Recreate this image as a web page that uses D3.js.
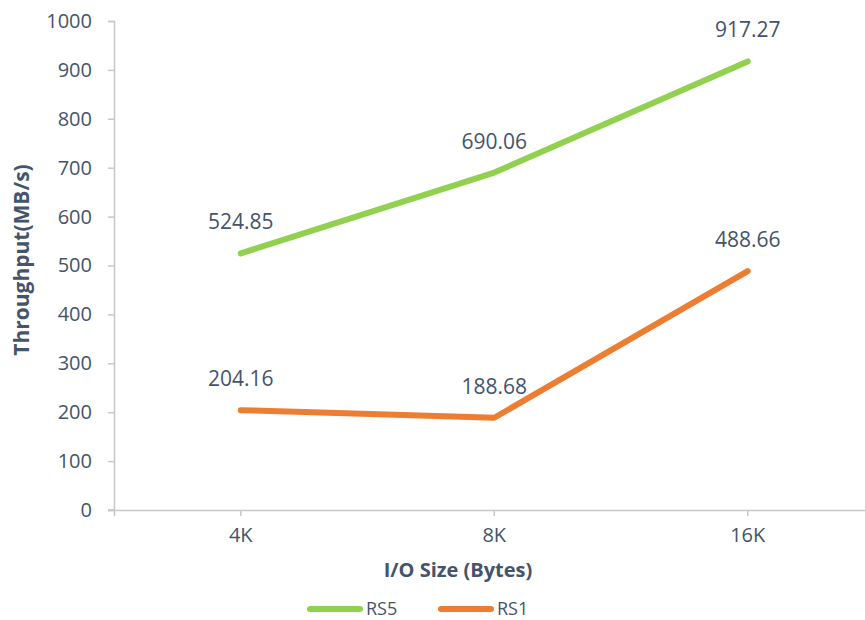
<!DOCTYPE html>
<html>
<head>
<meta charset="utf-8">
<script src="https://cdn.jsdelivr.net/npm/d3@7"></script>
<style>
  body { margin: 0; background: #fff; }
  svg { display: block; font-family: "Open Sans", sans-serif; }
</style>
</head>
<body>
<svg id="chart" width="865" height="620"></svg>
<script>
const categories = ["4K", "8K", "16K"];
const rs5 = [524.85, 690.06, 917.27];
const rs1 = [204.16, 188.68, 488.66];
const yTicks = [0, 100, 200, 300, 400, 500, 600, 700, 800, 900, 1000];

const series = [
    { name: "RS5", values: rs5, color: "#92D050" },
    { name: "RS1", values: rs1, color: "#ED7D31" }
];

const textColor = "#44546A";
const axisColor = "#C8C8C8";

const svg = d3.select("#chart");

// plot area
const plotLeft = 114, plotTop = 21, plotBottom = 510;
const step = 253.5;

const x = d3.scaleBand()
    .domain(categories)
    .range([plotLeft, plotLeft + step * categories.length]);

const y = d3.scaleLinear()
    .domain([0, 1000])
    .range([plotBottom, plotTop]);

// y axis
const yAxis = svg.append("g")
    .attr("transform", `translate(${plotLeft},0)`)
    .call(d3.axisLeft(y).tickValues(yTicks).tickFormat(d3.format("d")).tickSize(6).tickPadding(16));
yAxis.select(".domain").attr("stroke", axisColor).attr("stroke-width", 1.5);
yAxis.selectAll(".tick line").attr("stroke", axisColor).attr("stroke-width", 1.5);
yAxis.selectAll(".tick text")
    .attr("fill", textColor)
    .attr("font-family", "Open Sans")
    .attr("font-size", 20);

// x axis
const xAxis = svg.append("g")
    .attr("transform", `translate(0,${plotBottom})`)
    .call(d3.axisBottom(x).tickSizeOuter(0).tickSize(6).tickPadding(12));
xAxis.select(".domain").attr("stroke", axisColor).attr("stroke-width", 1.5);
xAxis.selectAll(".tick line").attr("stroke", axisColor).attr("stroke-width", 1.5);
xAxis.selectAll(".tick text")
    .attr("fill", textColor)
    .attr("font-family", "Open Sans")
    .attr("font-size", 20);
// extend the axis line past the y axis like the original
xAxis.append("line")
    .attr("x1", plotLeft - 6).attr("x2", plotLeft)
    .attr("stroke", axisColor).attr("stroke-width", 1.5);

// axis titles
svg.append("text")
    .attr("x", 458).attr("y", 577)
    .attr("text-anchor", "middle")
    .attr("fill", textColor)
    .attr("font-size", 20)
    .attr("font-weight", "bold")
    .text("I/O Size (Bytes)");

svg.append("text")
    .attr("transform", "translate(29,260) rotate(-90)")
    .attr("text-anchor", "middle")
    .attr("fill", textColor)
    .attr("font-size", 21)
    .attr("font-weight", "bold")
    .text("Throughput(MB/s)");

// lines
const line = d3.line()
    .x((d, i) => x(categories[i]) + x.bandwidth() / 2)
    .y(d => y(d));

series.forEach(s => {
    svg.append("path")
        .datum(s.values)
        .attr("fill", "none")
        .attr("stroke", s.color)
        .attr("stroke-width", 6)
        .attr("stroke-linecap", "round")
        .attr("stroke-linejoin", "round")
        .attr("d", line);

    svg.selectAll(null)
        .data(s.values)
        .enter()
        .append("text")
        .attr("x", (d, i) => x(categories[i]) + x.bandwidth() / 2)
        .attr("y", d => y(d) - 24)
        .attr("text-anchor", "middle")
        .attr("fill", textColor)
        .attr("font-size", 21)
        .text(d => d.toFixed(2));
});

// legend
const legend = svg.append("g").attr("transform", "translate(307,609)");
series.forEach((s, i) => {
    const g = legend.append("g").attr("transform", `translate(${i * 131},0)`);
    g.append("line")
        .attr("x1", 3).attr("x2", 53)
        .attr("stroke", s.color)
        .attr("stroke-width", 6)
        .attr("stroke-linecap", "round");
    g.append("text")
        .attr("x", 59).attr("y", 6)
        .attr("fill", textColor)
        .attr("font-size", 18)
        .text(s.name);
});
</script>
</body>
</html>
